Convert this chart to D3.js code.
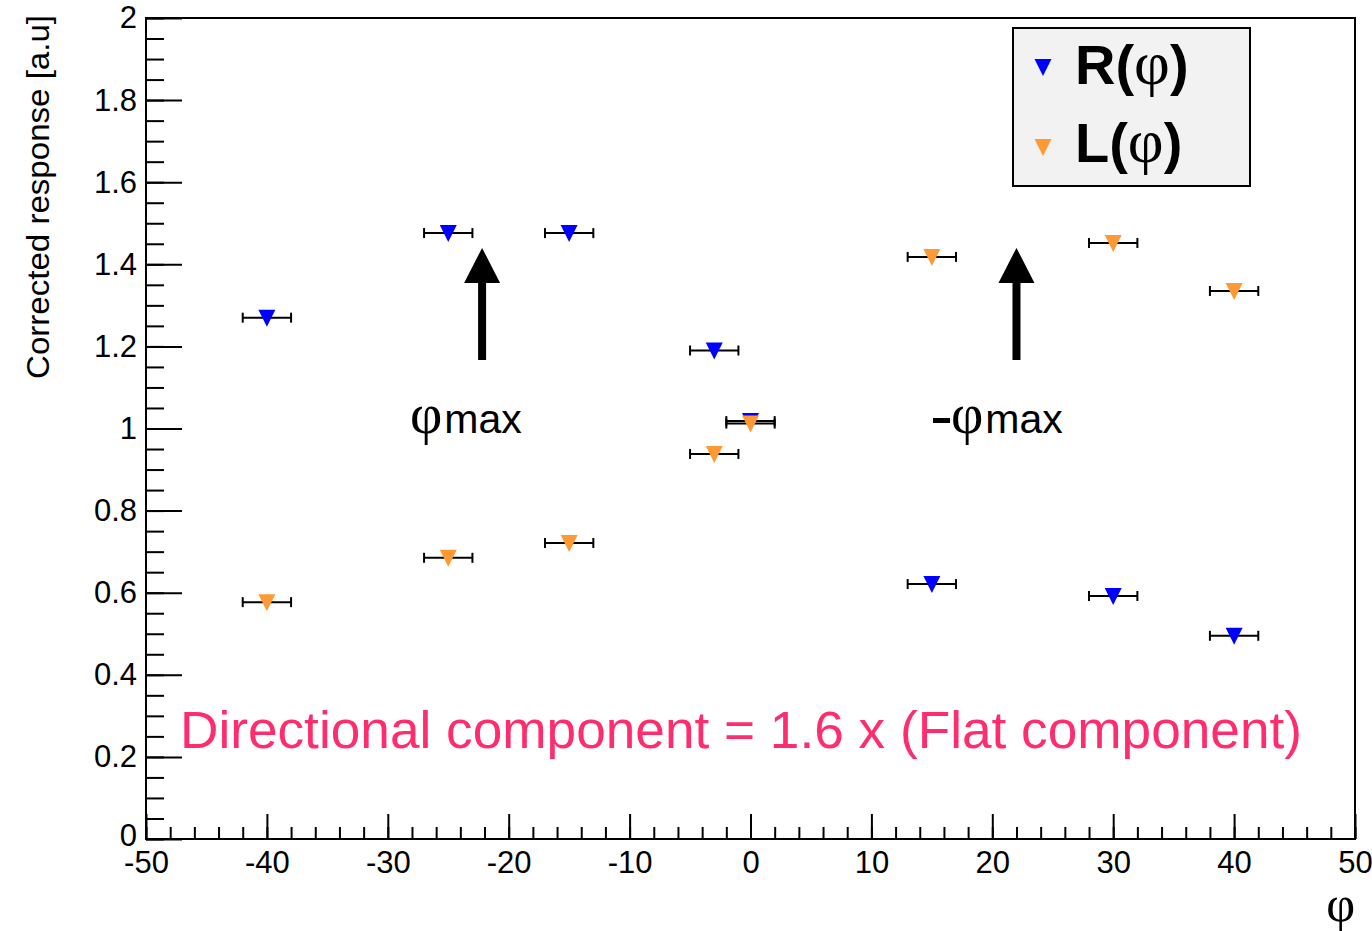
<!DOCTYPE html>
<html>
<head>
<meta charset="utf-8">
<script src="https://cdn.jsdelivr.net/npm/d3@7"></script>
<style>
  body { margin: 0; background: #fff; }
  svg { display: block; font-family: "Liberation Sans", Arial, sans-serif; }
</style>
</head>
<body>
<div id="chart"></div>
<script>
// angle points (deg) and corrected responses
const phiR = [-40, -25, -15, -3, 0, 15, 30, 40];
const respR = [1.270, 1.476, 1.476, 1.190, 1.018, 0.621, 0.592, 0.495];
const phiL = [-40, -25, -15, -3, 0, 15, 30, 40];
const respL = [0.577, 0.685, 0.721, 0.938, 1.012, 1.418, 1.452, 1.335];
const phiErr = [2, 2, 2, 2, 2, 2, 2, 2];

const xTicks = [-50, -40, -30, -20, -10, 0, 10, 20, 30, 40, 50];
const yTicks = [0, 0.2, 0.4, 0.6, 0.8, 1, 1.2, 1.4, 1.6, 1.8, 2];
const arrowPhi = [-22.2, 22];
const arrowFrom = 1.167, arrowTo = 1.44;

const colR = '#0000ff', colL = '#ff9933';
const serif = '"Liberation Serif", "Times New Roman", serif';

var W = 1372, H = 931;
var margin = { top: 18, right: 17, bottom: 92, left: 146 };

var svg = d3.select('#chart').append('svg')
  .attr('width', W).attr('height', H);

var x = d3.scaleLinear().domain([-50, 50]).range([margin.left, W - margin.right]);
var y = d3.scaleLinear().domain([0, 2]).range([H - margin.bottom, margin.top]);

// minor ticks
var xMinor = d3.range(-50, 50.01, 2);
var yMinor = d3.range(0, 2.001, 0.05);

svg.append('g')
  .attr('transform', 'translate(0,' + y(0) + ')')
  .call(d3.axisBottom(x).tickValues(xMinor).tickSizeInner(-12).tickSizeOuter(0).tickFormat(''))
  .call(g => g.select('.domain').remove());
svg.append('g')
  .attr('transform', 'translate(' + x(-50) + ',0)')
  .call(d3.axisLeft(y).tickValues(yMinor).tickSizeInner(-18).tickSizeOuter(0).tickFormat(''))
  .call(g => g.select('.domain').remove());

// major ticks + labels (plain hyphen for negatives)
var gx = svg.append('g')
  .attr('transform', 'translate(0,' + y(0) + ')')
  .call(d3.axisBottom(x).tickValues(xTicks).tickSizeInner(-25).tickSizeOuter(0).tickPadding(12).tickFormat(d => String(d)));
gx.select('.domain').remove();
gx.selectAll('text').attr('font-size', 31).attr('fill', '#000').attr('font-family', '"Liberation Sans", Arial, sans-serif');

var gy = svg.append('g')
  .attr('transform', 'translate(' + x(-50) + ',0)')
  .call(d3.axisLeft(y).tickValues(yTicks).tickSizeInner(-36).tickSizeOuter(0).tickPadding(9).tickFormat(d => String(+d.toFixed(1))));
gy.select('.domain').remove();
gy.selectAll('text').attr('font-size', 31).attr('fill', '#000').attr('font-family', '"Liberation Sans", Arial, sans-serif');
gy.selectAll('.tick').filter(d => d === 0).select('text').attr('dy', '0.2em');

svg.selectAll('.tick line').attr('stroke', '#000').attr('stroke-width', 2);

// frame
svg.append('rect')
  .attr('x', x(-50)).attr('y', y(2))
  .attr('width', x(50) - x(-50)).attr('height', y(0) - y(2))
  .attr('fill', 'none').attr('stroke', '#000').attr('stroke-width', 2);

// axis titles
svg.append('text')
  .attr('transform', 'translate(49,' + 15 + ') rotate(-90)')
  .attr('text-anchor', 'end')
  .attr('font-size', 31)
  .attr('textLength', 364)
  .attr('lengthAdjust', 'spacingAndGlyphs')
  .text('Corrected response [a.u]');

svg.append('text')
  .attr('x', x(50)).attr('y', 921)
  .attr('text-anchor', 'end')
  .attr('font-family', serif)
  .attr('font-size', 50)
  .text('φ');

// series
function drawSeries(phi, resp, color) {
  var pts = phi.map((p, i) => ({ p: p, v: resp[i], e: phiErr[i] }));
  var g = svg.append('g');
  g.selectAll('line.err').data(pts).enter().append('line')
    .attr('x1', d => x(d.p - d.e)).attr('x2', d => x(d.p + d.e))
    .attr('y1', d => y(d.v)).attr('y2', d => y(d.v))
    .attr('stroke', '#000').attr('stroke-width', 2);
  g.selectAll('line.capl').data(pts).enter().append('line')
    .attr('x1', d => x(d.p - d.e)).attr('x2', d => x(d.p - d.e))
    .attr('y1', d => y(d.v) - 5).attr('y2', d => y(d.v) + 5)
    .attr('stroke', '#000').attr('stroke-width', 2);
  g.selectAll('line.capr').data(pts).enter().append('line')
    .attr('x1', d => x(d.p + d.e)).attr('x2', d => x(d.p + d.e))
    .attr('y1', d => y(d.v) - 5).attr('y2', d => y(d.v) + 5)
    .attr('stroke', '#000').attr('stroke-width', 2);
  g.selectAll('path').data(pts).enter().append('path')
    .attr('transform', d => 'translate(' + x(d.p) + ',' + y(d.v) + ')')
    .attr('d', 'M-8.5,-8L8.5,-8L0,9Z')
    .attr('fill', color);
}
drawSeries(phiR, respR, colR);
drawSeries(phiL, respL, colL);

// arrows
arrowPhi.forEach(function (p) {
  var cx = x(p), yb = y(arrowFrom), yt = y(arrowTo);
  svg.append('path')
    .attr('d', 'M' + (cx - 4) + ',' + yb + 'L' + (cx - 4) + ',' + (yt + 35) + 'L' + (cx - 18) + ',' + (yt + 35) +
      'L' + cx + ',' + yt + 'L' + (cx + 18) + ',' + (yt + 35) + 'L' + (cx + 4) + ',' + (yt + 35) + 'L' + (cx + 4) + ',' + yb + 'Z')
    .attr('fill', '#000');
});

// annotations
function phiLabel(xp, withMinus) {
  var x0 = xp;
  if (withMinus) {
    svg.append('rect').attr('x', xp).attr('y', 418).attr('width', 17).attr('height', 5).attr('fill', '#000');
    x0 = xp + 18;
  }
  var t = svg.append('text').attr('x', x0).attr('y', 433).attr('font-size', 41);
  t.append('tspan').attr('font-family', serif).attr('font-size', 56).text('φ');
  t.append('tspan').attr('dx', 2).text('max');
}
phiLabel(410, false);
phiLabel(933, true);

svg.append('text')
  .attr('x', 180).attr('y', 748)
  .attr('font-size', 51)
  .attr('textLength', 1122)
  .attr('lengthAdjust', 'spacingAndGlyphs')
  .attr('fill', '#ff2d6e')
  .text('Directional component = 1.6 x (Flat component)');

// legend
var leg = svg.append('g');
leg.append('rect')
  .attr('x', 1013).attr('y', 28).attr('width', 237).attr('height', 158)
  .attr('fill', '#f2f2f2').attr('stroke', '#000').attr('stroke-width', 2);
[['R', colR, 67, 84], ['L', colL, 147, 162]].forEach(function (r) {
  leg.append('path')
    .attr('transform', 'translate(1043,' + r[2] + ')')
    .attr('d', 'M-8.5,-8L8.5,-8L0,9Z')
    .attr('fill', r[1]);
  var t = leg.append('text').attr('x', 1075).attr('y', r[3]).attr('font-size', 56);
  t.append('tspan').attr('font-weight', 'bold').text(r[0] + '(');
  t.append('tspan').attr('font-family', serif).attr('font-size', 62).text('φ');
  t.append('tspan').attr('font-weight', 'bold').text(')');
});
</script>
</body>
</html>
